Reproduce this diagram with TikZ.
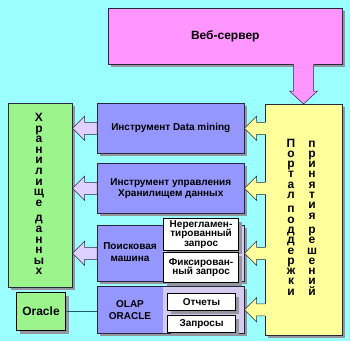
\documentclass[tikz,border=0pt]{standalone}
\usepackage{fontspec}
\setmainfont{Liberation Sans}
\usetikzlibrary{positioning, calc, shadows}
\definecolor{bgcyan}{RGB}{155,255,255}
\definecolor{mymagenta}{RGB}{255,150,255}
\definecolor{mypurple}{RGB}{150,150,255}
\definecolor{mygreen}{RGB}{155,245,140}
\definecolor{myyellow}{RGB}{255,255,155}
\definecolor{mylavender}{RGB}{222,208,255}
\definecolor{mypanel}{RGB}{212,204,240}
\definecolor{shadowgray}{RGB}{150,150,160}
\definecolor{mydark}{RGB}{40,40,60}
\definecolor{linkteal}{RGB}{30,90,100}
\tikzset{
  box/.style={rectangle, draw=mydark, line width=0.5pt, anchor=north west, inner sep=1pt, align=center,
    font=\bfseries\fontsize{10}{11}\selectfont,
    drop shadow={shadow xshift=3pt, shadow yshift=-3pt, fill=shadowgray, opacity=1}},
  query/.style={box, fill=white, draw=black, line width=1.1pt, minimum width=75pt, inner sep=0.5pt,
    font=\bfseries\fontsize{10}{9.6}\selectfont},
  panel/.style={rectangle, fill=mypanel, anchor=north west, inner sep=0pt},
  stack/.style={align=center, inner sep=0pt},
  plain/.style={align=center, inner sep=0pt, font=\bfseries\fontsize{10}{12}\selectfont},
  arrowline/.style={draw=mydark, line width=0.5pt, line join=miter}
}
% leftward block arrow: fill colour, start, tip
\newcommand{\leftblock}[3]{%
  \fill[#1] ($(#2)+(1.5,-6)$) -- ($(#3)+(12,-6)$) -- ($(#3)+(12,-12)$) -- (#3)
    -- ($(#3)+(12,12)$) -- ($(#3)+(12,6)$) -- ($(#2)+(1.5,6)$) -- cycle;
  \draw[arrowline] ($(#2)+(0,-6)$) -- ($(#3)+(12,-6)$) -- ($(#3)+(12,-12)$) -- (#3)
    -- ($(#3)+(12,12)$) -- ($(#3)+(12,6)$) -- ($(#2)+(0,6)$);}

\begin{document}
\begin{tikzpicture}[x=1pt, y=-1pt]
  \fill[bgcyan] (0,0) rectangle (350,341);
  \useasboundingbox (0,0) rectangle (350,341);

  % Web server and portal
  \node[box, fill=mymagenta, minimum width=234pt, minimum height=56pt,
    font=\bfseries\fontsize{12}{14}\selectfont] (web) at (108,8) {Веб-сервер};
  \node[box, fill=myyellow, minimum width=77pt, minimum height=231pt] (portal) at (265,104) {};
  \node[stack, font=\bfseries\fontsize{12}{10.3}\selectfont] (portalA) at (291,217)
    {П\\о\\р\\т\\а\\л\\[4pt]п\\о\\д\\д\\е\\р\\ж\\к\\и};
  \node[stack, font=\bfseries\fontsize{12}{10.3}\selectfont] (portalB) at (312,218)
    {п\\р\\и\\н\\я\\т\\и\\я\\[4pt]р\\е\\ш\\е\\н\\и\\й};

  % Data warehouse
  \node[box, fill=mygreen, minimum width=64pt, minimum height=184pt] (store) at (8,103) {};
  \node[stack, font=\bfseries\fontsize{12}{10.6}\selectfont] (storetxt) at (39,194)
    {Х\\р\\а\\н\\и\\л\\и\\щ\\е\\[5pt]д\\а\\н\\н\\ы\\х};

  % Tools
  \node[box, fill=mypurple, minimum width=147pt, minimum height=50pt] (dm) at (97,103) {Инструмент Data mining};
  \node[box, fill=mypurple, minimum width=147pt, minimum height=50pt] (mgmt) at (97,163)
    {Инструмент управления\\Хранилищем данных};

  \node[box, fill=mypurple, minimum width=147pt, minimum height=56pt] (search) at (97,225) {};
  \node[panel, minimum width=80.5pt, minimum height=55pt] (searchpanel) at (163,225.5) {};
  \node[plain] (searchtxt) at (130,252) {Поисковая\\машина};
  \node[query, minimum height=32pt] (adhoc) at (163,218) {Нерегламен-\\тированный\\запрос};
  \node[query, minimum height=30pt] (fixed) at (163,252) {Фиксирован-\\ный запрос};

  \node[box, fill=mypurple, minimum width=147pt, minimum height=47pt] (olap) at (97,286) {};
  \node[panel, minimum width=80.5pt, minimum height=46pt] (olappanel) at (163,286.5) {};
  \node[plain] (olaptxt) at (130,310) {OLAP\\ORACLE};
  \node[query, minimum width=68pt, minimum height=17pt] (reports) at (167,293) {Отчеты};
  \node[query, minimum width=68pt, minimum height=17pt] (requests) at (167,315) {Запросы};

  % Oracle
  \node[box, fill=mygreen, draw=black, line width=1pt, minimum width=49pt, minimum height=38pt,
    font=\bfseries\fontsize{12}{14}\selectfont] (oracle) at (16,292) {Oracle};
  \draw[linkteal, line width=0.8pt] (oracle.east) -- (oracle.east -| olap.west);

  % Web server -> portal
  \coordinate (webfoot) at ($(web.south east)+(-39,0)$);
  \coordinate (webtip) at (webfoot |- portal.north);
  \fill[mymagenta] ($(webfoot)+(-10,-1.5)$) -- ($(webtip)+(-10,-13)$) -- ($(webtip)+(-14,-13)$) -- (webtip)
    -- ($(webtip)+(14,-13)$) -- ($(webtip)+(10,-13)$) -- ($(webfoot)+(10,-1.5)$) -- cycle;
  \draw[arrowline] (webfoot) ++(-10,0) -- ($(webtip)+(-10,-13)$) -- ($(webtip)+(-14,-13)$) -- (webtip)
    -- ($(webtip)+(14,-13)$) -- ($(webtip)+(10,-13)$) -- ($(webfoot)+(10,0)$);

  % Portal -> tools
  \foreach \t in {dm, mgmt, search, olap}
    \leftblock{myyellow}{portal.west |- \t.east}{\t.east};

  % Tools -> warehouse
  \foreach \t in {dm, mgmt, search}
    \draw[arrowline, fill=mylavender] (\t.west) ++(0,-6) -- ($(store.east |- \t.west)+(12,-6)$)
      -- ($(store.east |- \t.west)+(12,-12)$) -- (store.east |- \t.west)
      -- ($(store.east |- \t.west)+(12,12)$) -- ($(store.east |- \t.west)+(12,6)$) -- ($(\t.west)+(0,6)$) -- cycle;
\end{tikzpicture}
\end{document}
